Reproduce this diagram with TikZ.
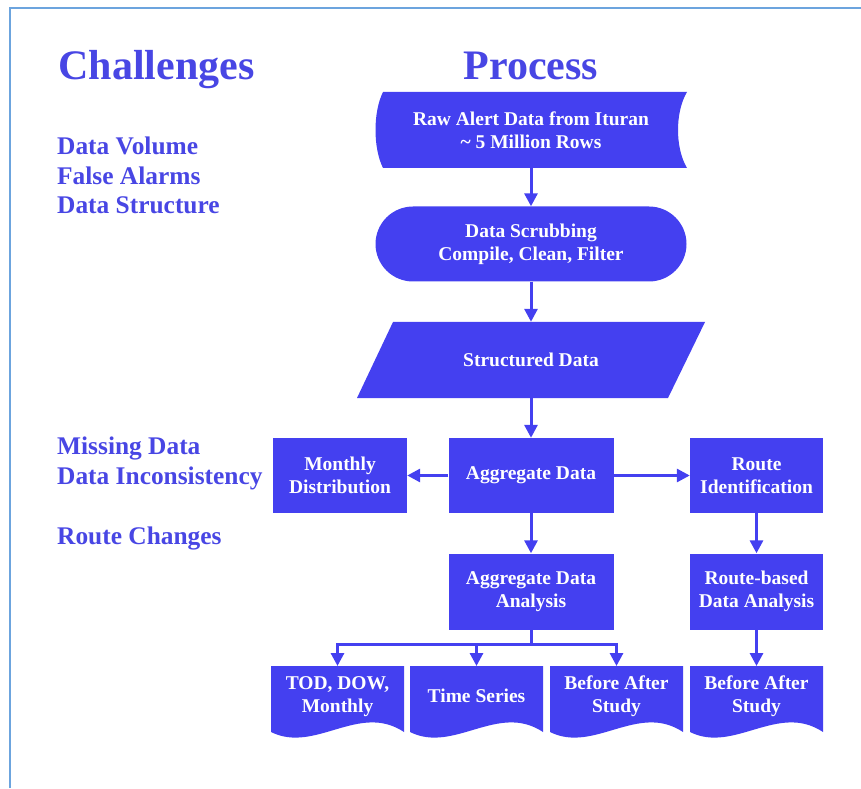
\documentclass[tikz,border=0pt]{standalone}
\usepackage{fontspec}
\setmainfont{Liberation Serif}
\usepackage{tikz}
\usetikzlibrary{shapes.misc, arrows.meta, positioning}

\definecolor{flowblue}{RGB}{68,64,240}
\definecolor{textblue}{RGB}{72,70,228}
\definecolor{framelight}{RGB}{108,164,222}

\begin{document}
\begin{tikzpicture}[x=1pt, y=1pt,
    box/.style={rectangle, fill=flowblue, text=white, align=center, inner sep=0pt,
        font=\fontsize{19.5}{23}\selectfont\bfseries},
    txt/.style={rectangle, text=white, align=center, inner sep=0pt,
        font=\fontsize{19.5}{23}\selectfont\bfseries},
    flow/.style={-{Triangle[length=13pt, width=13pt]}, line width=3pt, flowblue},
    link/.style={line width=3pt, flowblue},
    chal/.style={anchor=base west, textblue, inner sep=0pt,
        font=\fontsize{25.4}{30}\selectfont\bfseries},
    heading/.style={anchor=base, textblue, inner sep=0pt,
        font=\fontsize{42}{48}\selectfont\bfseries}]

    \useasboundingbox (0,0) rectangle (861,788);
    % slide frame
    \draw[framelight, line width=2pt] (10,0) -- (10,780) -- (861,780);

    % LEFT: challenges
    \node[heading] (challenges) at (156.5,708) {Challenges};
    \node[chal] (volume) at (57,633) {Data Volume};
    \node[chal] (alarms) at (57,603) {False Alarms};
    \node[chal] (structure) at (57,574) {Data Structure};
    \node[chal] (missing) at (57,334) {Missing Data};
    \node[chal] (inconsist) at (57,304) {Data Inconsistency};
    \node[chal] (changes) at (57,244) {Route Changes};

    % RIGHT: process
    \node[heading] (process) at (531,708) {Process};

    % stored data shape
    \fill[flowblue] (383,696) -- (687,696) .. controls (675,676) and (675,640) .. (687,620)
        -- (383,620) .. controls (373,640) and (373,676) .. cycle;
    \node[txt, minimum width=311, minimum height=76] (raw) at (531,658)
        {Raw Alert Data from Ituran\\\textasciitilde{} 5 Million Rows};

    \node[box, rounded rectangle, minimum width=311, minimum height=75] (scrub) at (531,544)
        {Data Scrubbing\\Compile, Clean, Filter};

    % parallelogram
    \fill[flowblue] (393,466) -- (705,466) -- (668,390) -- (357,390) -- cycle;
    \node[txt, minimum width=312, minimum height=76] (structured) at (531,428) {Structured Data};

    \node[box, minimum width=165, minimum height=75] (agg) at (531,312.5) {Aggregate Data};
    \node[box, minimum width=134, minimum height=75] (monthly) at (340,312.5) {Monthly\\Distribution};
    \node[box, minimum width=133, minimum height=75] (routeid) at (756.5,312.5) {Route\\Identification};
    \node[box, minimum width=165, minimum height=76] (aggan) at (531,196.5) {Aggregate Data\\Analysis};
    \node[box, minimum width=133, minimum height=76] (routean) at (756.5,196.5) {Route-based\\Data Analysis};

    % document shapes
    \foreach \x in {271,410,550,690}
        \fill[flowblue] (\x,122) -- ({\x+133},122) -- ({\x+133},56)
            .. controls ({\x+88},86) and ({\x+44},34) .. (\x,56) -- cycle;
    \node[txt, anchor=north, minimum width=133, minimum height=60] (tod) at (337.5,122) {TOD, DOW,\\Monthly};
    \node[txt, anchor=north, minimum width=133, minimum height=60] (series) at (476.5,122) {Time Series};
    \node[txt, anchor=north, minimum width=133, minimum height=60] (study) at (616.5,122) {Before After\\Study};
    \node[txt, anchor=north, minimum width=133, minimum height=60] (routestudy) at (756.5,122) {Before After\\Study};

    % connectors
    \draw[flow] (raw.south) -- (scrub.north);
    \draw[flow] (scrub.south) -- (structured.north);
    \draw[flow] (structured.south) -- (agg.north);
    \draw[flow] (agg.west) -- (monthly.east);
    \draw[flow] (agg.east) -- (routeid.west);
    \draw[flow] (agg.south) -- (aggan.north);
    \draw[flow] (routeid.south) -- (routean.north);
    \draw[flow] (routean.south) -- (routestudy.north);

    \coordinate (split) at (531,144);
    \draw[link] (aggan.south) -- (split);
    \draw[flow] (split) -| (tod.north);
    \draw[flow] (split) -| (study.north);
    \draw[flow] (series.north |- split) -- (series.north);
\end{tikzpicture}
\end{document}
